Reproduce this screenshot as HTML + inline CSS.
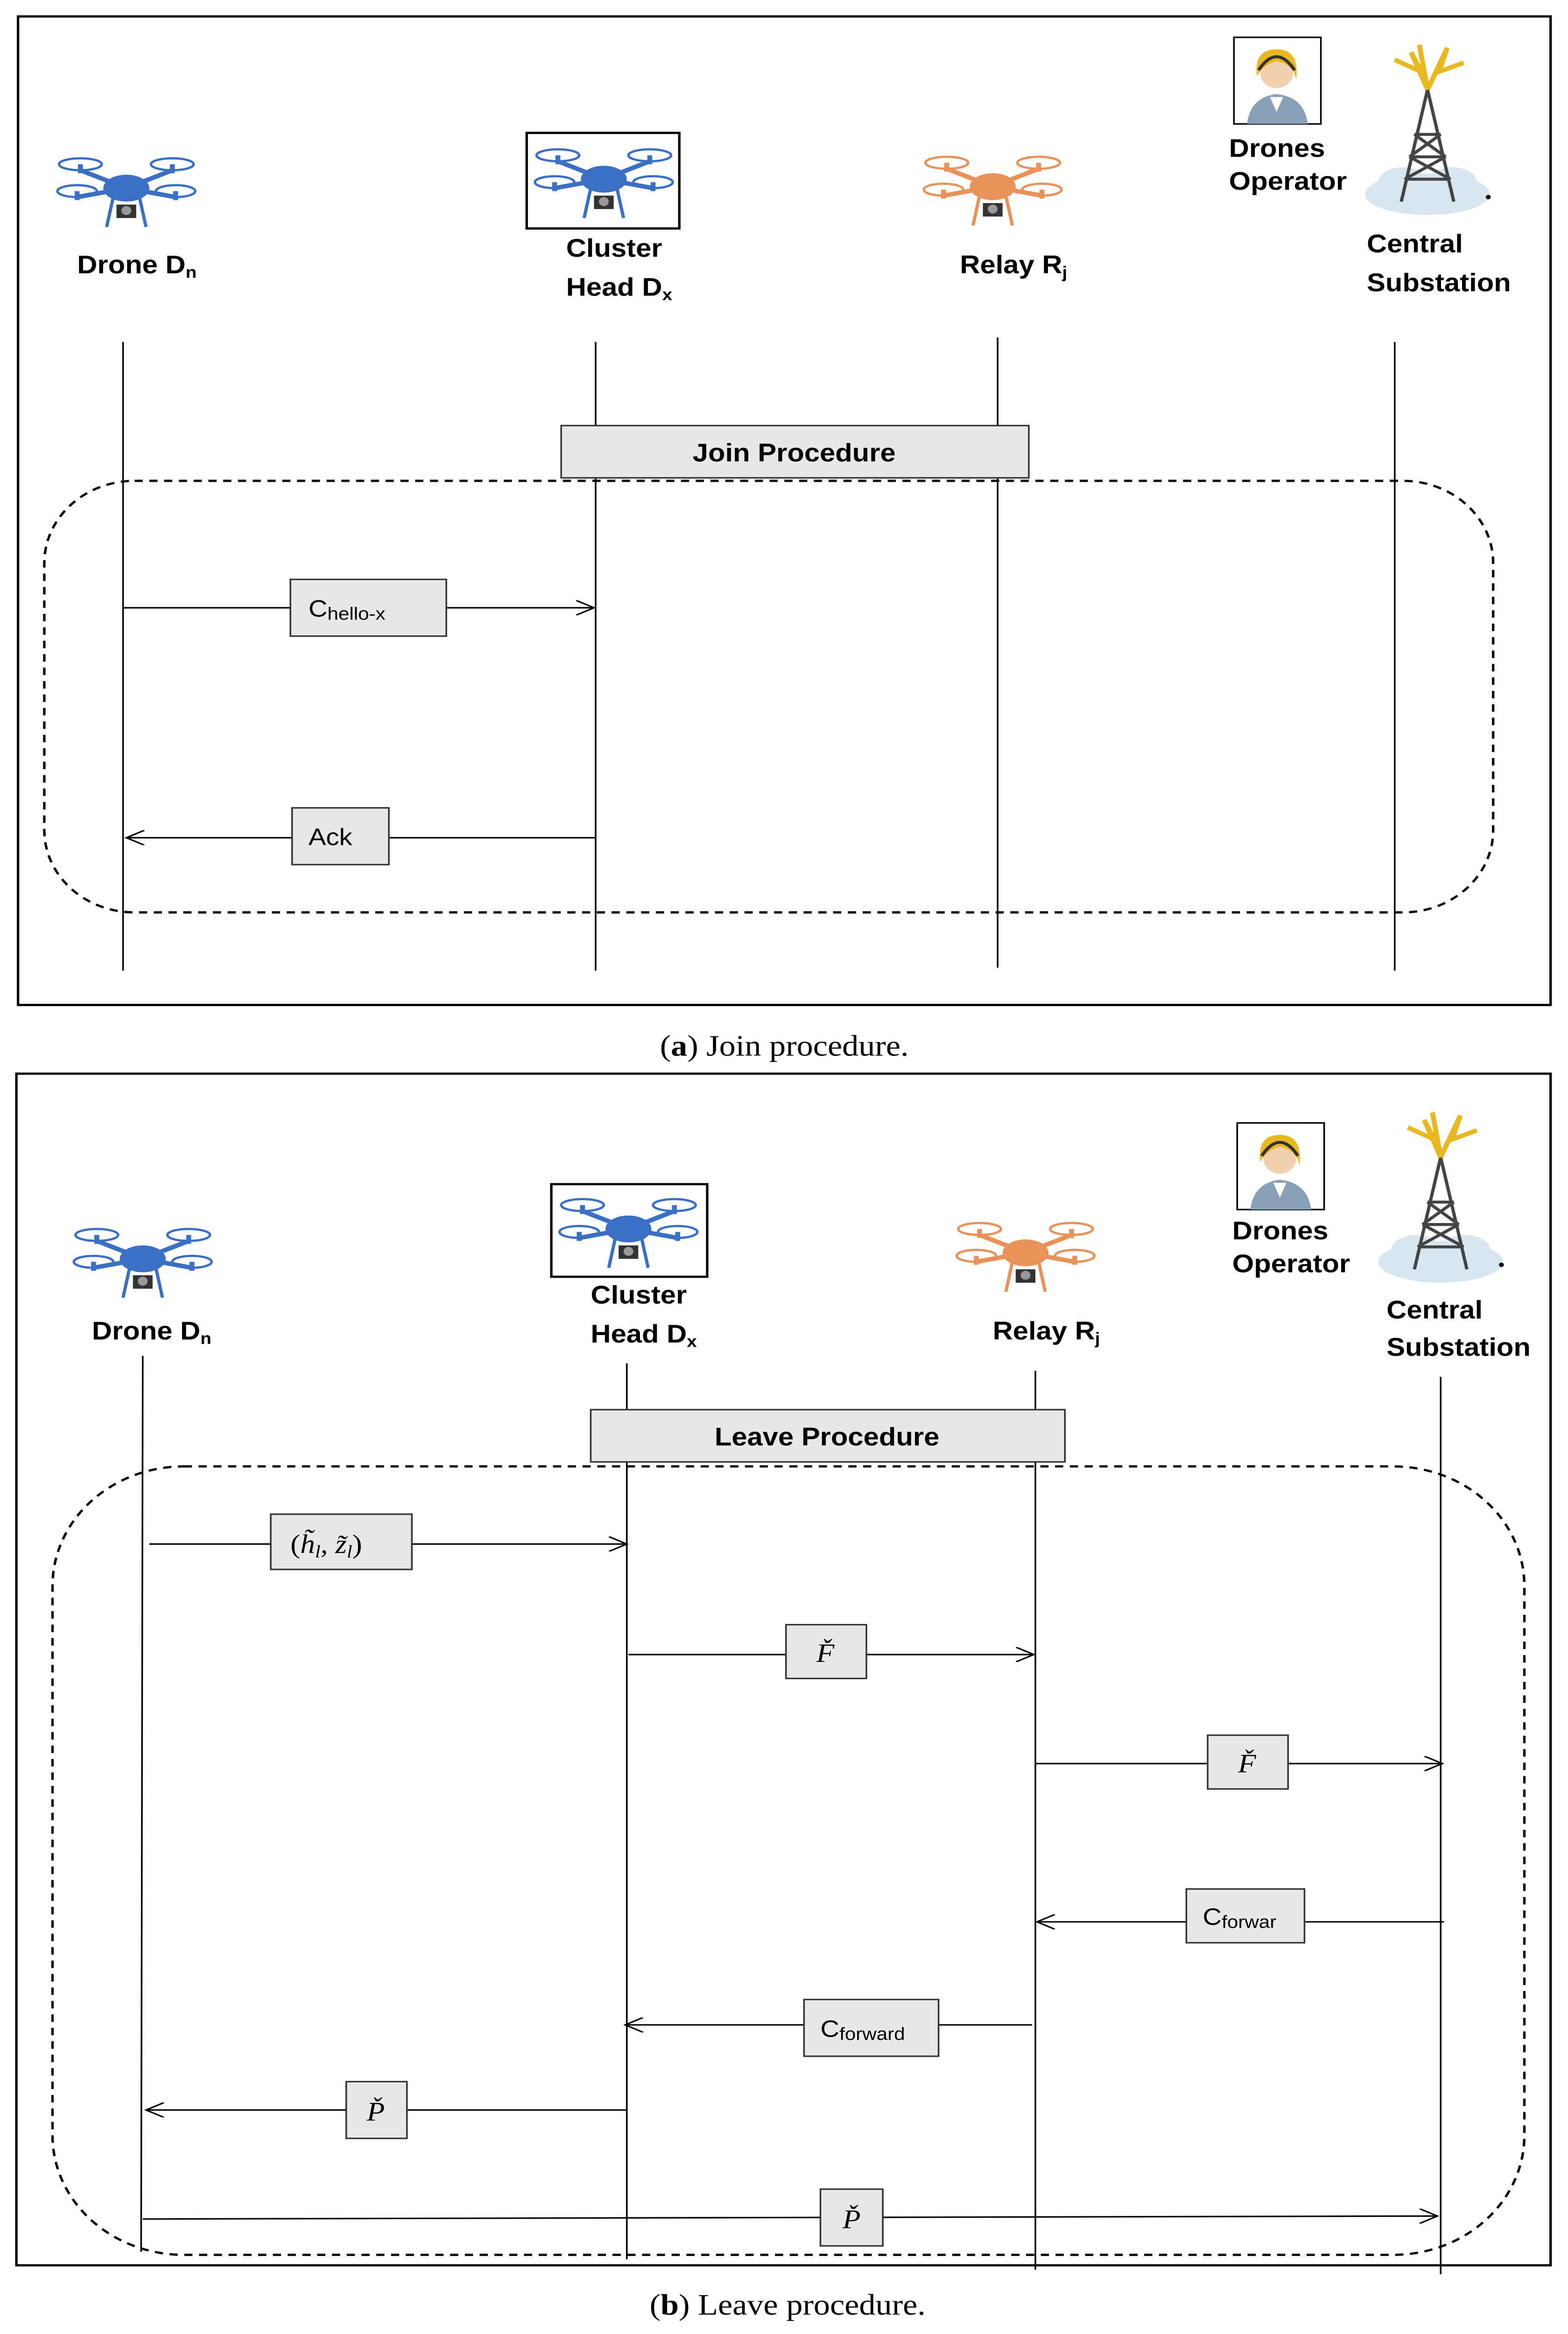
<!DOCTYPE html>
<html><head><meta charset="utf-8"><style>
html,body{margin:0;padding:0;background:#fff;overflow:hidden;width:100%;height:100%;}
svg{display:block;width:100vw;height:100vh;}
.lb{font-family:"Liberation Sans",sans-serif;font-weight:bold;font-size:17px;fill:#000;}
.bx{fill:#e8e8e8;stroke:#333;stroke-width:1;}
.ln{stroke:#000;stroke-width:1;fill:none;}
.cap{font-family:"Liberation Serif",serif;font-size:20px;fill:#000;}
.mt{font-family:"Liberation Serif",serif;font-style:italic;font-size:18px;}
.sm{font-family:"Liberation Sans",sans-serif;font-size:16px;}
</style></head><body>
<svg viewBox="0 0 955.6 1563" preserveAspectRatio="none" xmlns="http://www.w3.org/2000/svg">
<defs>
<g id="dr">
 <line x1="42" y1="26" x2="14" y2="14" stroke="currentColor" stroke-width="3"/>
 <line x1="42" y1="26" x2="70" y2="14" stroke="currentColor" stroke-width="3"/>
 <line x1="42" y1="26" x2="12" y2="32" stroke="currentColor" stroke-width="3"/>
 <line x1="42" y1="26" x2="72" y2="32" stroke="currentColor" stroke-width="3"/>
 <ellipse cx="14" cy="10" rx="13" ry="4" fill="none" stroke="currentColor" stroke-width="1.5"/>
 <ellipse cx="70" cy="10" rx="13" ry="4" fill="none" stroke="currentColor" stroke-width="1.5"/>
 <ellipse cx="12" cy="28" rx="12" ry="4" fill="none" stroke="currentColor" stroke-width="1.5"/>
 <ellipse cx="72" cy="28" rx="12" ry="4" fill="none" stroke="currentColor" stroke-width="1.5"/>
 <line x1="14" y1="10" x2="14" y2="16" stroke="currentColor" stroke-width="3"/>
 <line x1="70" y1="10" x2="70" y2="16" stroke="currentColor" stroke-width="3"/>
 <line x1="12" y1="28" x2="12" y2="34" stroke="currentColor" stroke-width="3"/>
 <line x1="72" y1="28" x2="72" y2="34" stroke="currentColor" stroke-width="3"/>
 <ellipse cx="42" cy="26" rx="14" ry="9" fill="currentColor"/>
 <line x1="34" y1="32" x2="30" y2="52" stroke="currentColor" stroke-width="2"/>
 <line x1="50" y1="32" x2="54" y2="52" stroke="currentColor" stroke-width="2"/>
 <rect x="36" y="37" width="12" height="9" fill="#333"/>
 <circle cx="42" cy="41" r="3" fill="#999"/>
</g>
<g id="op">
 <rect x="0" y="0" width="53" height="58" fill="#fff" stroke="#000"/>
 <path d="M8 58 Q10 40 26 38 Q43 40 45 58Z" fill="#8aa0b8"/>
 <path d="M22 40 L26 50 L30 40Z" fill="#fff"/>
 <circle cx="26" cy="24" r="10" fill="#f2d0b0"/>
 <path d="M14 26 Q12 8 26 8 Q40 8 38 28 Q36 18 26 16 Q18 18 14 26Z" fill="#e8b820"/>
 <path d="M15 22 Q26 4 37 22" fill="none" stroke="#333" stroke-width="2"/>
</g>
<g id="tw">
 <ellipse cx="40" cy="100" rx="38" ry="14" fill="#d8e6f0"/>
 <ellipse cx="25" cy="92" rx="15" ry="10" fill="#d8e6f0"/>
 <ellipse cx="55" cy="92" rx="15" ry="10" fill="#d8e6f0"/>
 <path d="M40 30 L24 105 M40 30 L56 105 M32 60 L48 60 M29 75 L51 75 M26 90 L54 90 M32 60 L51 75 M48 60 L29 75 M29 75 L54 90 M51 75 L26 90" stroke="#444" stroke-width="2" fill="none"/>
 <path d="M40 30 L30 5 L36 18 L20 10 M40 30 L52 2 L47 18 L62 12 M40 30 L35 0" stroke="#e8b820" stroke-width="3" fill="none"/>
 <circle cx="77" cy="102" r="1.5" fill="#000"/>
</g>
<marker id="ar" markerWidth="12" markerHeight="10" refX="11" refY="5" orient="auto" markerUnits="userSpaceOnUse">
 <path d="M0 0 L11 5 L0 10" fill="none" stroke="#000" stroke-width="1"/>
</marker>
</defs>

<!-- Panel a -->
<rect x="11" y="11" width="934" height="662" fill="none" stroke="#000" stroke-width="1.5"/>
<use href="#dr" x="35" y="100" style="color:#3b6fc4"/>
<text class="lb" x="47" y="183">Drone D<tspan font-size="11" dy="3">n</tspan></text>
<rect x="321" y="89" width="93" height="64" fill="#fff" stroke="#000" stroke-width="1.5"/>
<use href="#dr" x="326" y="94" style="color:#3b6fc4"/>
<text class="lb" x="345" y="172">Cluster</text>
<text class="lb" x="345" y="198">Head D<tspan font-size="11" dy="3">x</tspan></text>
<use href="#dr" x="563" y="99" style="color:#e8925a"/>
<text class="lb" x="585" y="183">Relay R<tspan font-size="11" dy="3">j</tspan></text>
<use href="#op" x="752" y="25"/>
<text class="lb" x="749" y="105" font-size="16">Drones</text>
<text class="lb" x="749" y="127" font-size="16">Operator</text>
<use href="#tw" x="830" y="30"/>
<text class="lb" x="833" y="169">Central</text>
<text class="lb" x="833" y="195">Substation</text>
<line class="ln" x1="75" y1="229" x2="75" y2="650"/>
<line class="ln" x1="363" y1="229" x2="363" y2="650"/>
<line class="ln" x1="608" y1="226" x2="608" y2="648"/>
<line class="ln" x1="850" y1="229" x2="850" y2="650"/>
<rect x="27" y="322" width="883" height="289" rx="55" fill="none" stroke="#000" stroke-width="1.5" stroke-dasharray="5,4"/>
<rect class="bx" x="342" y="285" width="285" height="35"/>
<text class="lb" x="484" y="309" text-anchor="middle">Join Procedure</text>
<line class="ln" x1="75" y1="407" x2="362" y2="407" marker-end="url(#ar)"/>
<rect class="bx" x="177" y="388" width="95" height="38"/>
<text class="sm" x="188" y="413">C<tspan font-size="12" dy="2">hello-x</tspan></text>
<line class="ln" x1="363" y1="561" x2="77" y2="561" marker-end="url(#ar)"/>
<rect class="bx" x="178" y="541" width="59" height="38"/>
<text class="sm" x="188" y="566" font-size="18">Ack</text>
<text class="cap" x="478" y="707" text-anchor="middle">(<tspan font-weight="bold">a</tspan>) Join procedure.</text>

<!-- Panel b -->
<rect x="10" y="719" width="935" height="798" fill="none" stroke="#000" stroke-width="1.5"/>
<use href="#dr" x="45" y="817" style="color:#3b6fc4"/>
<text class="lb" x="56" y="897">Drone D<tspan font-size="11" dy="3">n</tspan></text>
<rect x="336" y="793" width="95" height="62" fill="#fff" stroke="#000" stroke-width="1.5"/>
<use href="#dr" x="341" y="797" style="color:#3b6fc4"/>
<text class="lb" x="360" y="873">Cluster</text>
<text class="lb" x="360" y="899">Head D<tspan font-size="11" dy="3">x</tspan></text>
<use href="#dr" x="583" y="813" style="color:#e8925a"/>
<text class="lb" x="605" y="897">Relay R<tspan font-size="11" dy="3">j</tspan></text>
<use href="#op" x="754" y="752"/>
<text class="lb" x="751" y="830" font-size="16">Drones</text>
<text class="lb" x="751" y="852" font-size="16">Operator</text>
<use href="#tw" x="838" y="745"/>
<text class="lb" x="845" y="883">Central</text>
<text class="lb" x="845" y="908">Substation</text>
<line class="ln" x1="87" y1="908" x2="86" y2="1508"/>
<line class="ln" x1="382" y1="913" x2="382" y2="1513"/>
<line class="ln" x1="631" y1="918" x2="631" y2="1520"/>
<line class="ln" x1="878" y1="922" x2="878" y2="1523"/>
<rect x="32" y="982" width="897" height="528" rx="80" fill="none" stroke="#000" stroke-width="1.5" stroke-dasharray="5,4"/>
<rect class="bx" x="360" y="944" width="289" height="35"/>
<text class="lb" x="504" y="968" text-anchor="middle">Leave Procedure</text>

<line class="ln" x1="91" y1="1034" x2="382" y2="1034" marker-end="url(#ar)"/>
<rect class="bx" x="165" y="1014" width="86" height="37"/>
<text class="mt" x="177" y="1040"><tspan font-style="normal">(</tspan>h̃<tspan font-size="12" dy="3">l</tspan><tspan dy="-3">, z̃</tspan><tspan font-size="12" dy="3">l</tspan><tspan font-style="normal" dy="-3">)</tspan></text>

<line class="ln" x1="383" y1="1108" x2="630" y2="1108" marker-end="url(#ar)"/>
<rect class="bx" x="479" y="1088" width="49" height="36"/>
<text class="mt" x="503" y="1113" text-anchor="middle">F̌</text>

<line class="ln" x1="631" y1="1181" x2="879" y2="1181" marker-end="url(#ar)"/>
<rect class="bx" x="736" y="1162" width="49" height="36"/>
<text class="mt" x="760" y="1187" text-anchor="middle">F̌</text>

<line class="ln" x1="880" y1="1287" x2="632" y2="1287" marker-end="url(#ar)"/>
<rect class="bx" x="723" y="1265" width="72" height="36"/>
<text class="sm" x="733" y="1289">C<tspan font-size="12" dy="2">forwar</tspan></text>

<line class="ln" x1="629" y1="1356" x2="381" y2="1356" marker-end="url(#ar)"/>
<rect class="bx" x="490" y="1339" width="82" height="38"/>
<text class="sm" x="500" y="1364">C<tspan font-size="12" dy="2">forward</tspan></text>

<line class="ln" x1="382" y1="1413" x2="89" y2="1413" marker-end="url(#ar)"/>
<rect class="bx" x="211" y="1394" width="37" height="38"/>
<text class="mt" x="229" y="1420" text-anchor="middle">P̌</text>

<line class="ln" x1="87" y1="1486" x2="876" y2="1484" marker-end="url(#ar)"/>
<rect class="bx" x="500" y="1466" width="38" height="38"/>
<text class="mt" x="519" y="1492" text-anchor="middle">P̌</text>

<text class="cap" x="480" y="1550" text-anchor="middle">(<tspan font-weight="bold">b</tspan>) Leave procedure.</text>
</svg>
</body></html>
